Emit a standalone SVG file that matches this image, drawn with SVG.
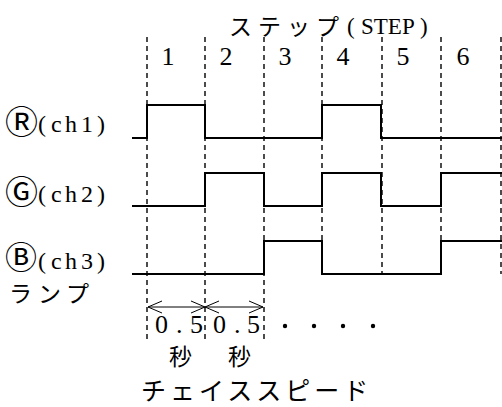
<svg xmlns="http://www.w3.org/2000/svg" width="502" height="407" viewBox="0 0 502 407">
  <style>
    .grid { stroke: #000; stroke-width: 1.4; stroke-dasharray: 5 4; fill: none; }
    .wave { stroke: #000; stroke-width: 2; fill: none; stroke-linejoin: miter; }
    .dim { stroke: #000; stroke-width: 1; fill: none; }
    .txt { font-family: "Liberation Serif", "Noto Sans CJK JP", "DejaVu Sans", serif; fill: #000; }
    .jp { font-family: "Noto Sans CJK JP", "Liberation Serif", sans-serif; fill: #000; }
    .circ { font-family: "DejaVu Sans", "Noto Sans CJK JP", sans-serif; fill: #000; }
  </style>
  <defs>
    <marker id="openArrow" viewBox="0 0 16 14" refX="15" refY="7" markerWidth="16" markerHeight="14" markerUnits="userSpaceOnUse" orient="auto-start-reverse">
      <path d="M1 1 L15 7 L1 13" fill="none" stroke="#000" stroke-width="1"/>
    </marker>
  </defs>
  <rect width="502" height="407" fill="#fff"/>

  <!-- title and step numbers -->
  <g id="title">
    <text class="jp" font-size="23" y="35"><tspan x="229">ス</tspan><tspan x="258">テ</tspan><tspan x="287">ッ</tspan><tspan x="316">プ</tspan></text>
    <text class="txt" font-size="23" y="34"><tspan x="347">(</tspan><tspan x="361">STEP</tspan><tspan x="420">)</tspan></text>
  </g>
  <g id="steps" class="txt" font-size="26" text-anchor="middle">
    <text x="168" y="65">1</text>
    <text x="226" y="65">2</text>
    <text x="285" y="65">3</text>
    <text x="343" y="65">4</text>
    <text x="403" y="65">5</text>
    <text x="463" y="65">6</text>
  </g>

  <!-- step boundaries -->
  <g id="connectors">
    <g id="grid">
      <line class="grid" x1="147" y1="37" x2="147" y2="342"/>
      <line class="grid" x1="205" y1="37" x2="205" y2="342"/>
      <line class="grid" x1="264" y1="37" x2="264" y2="342"/>
      <line class="grid" x1="322" y1="37" x2="322" y2="274"/>
      <line class="grid" x1="382" y1="37" x2="382" y2="274"/>
      <line class="grid" x1="441" y1="37" x2="441" y2="274"/>
      <line class="grid" x1="501" y1="37" x2="501" y2="274"/>
    </g>
    <!-- chase-speed intervals -->
    <line class="dim" x1="148" y1="307" x2="205" y2="307" marker-start="url(#openArrow)" marker-end="url(#openArrow)"/>
    <line class="dim" x1="205" y1="307" x2="263" y2="307" marker-start="url(#openArrow)" marker-end="url(#openArrow)"/>
  </g>

  <!-- channel waveforms -->
  <g id="ch1">
    <text class="circ" font-size="33" x="5" y="134">Ⓡ</text>
    <text class="txt" font-size="24" y="132"><tspan x="38">(</tspan><tspan x="51">c</tspan><tspan x="65">h</tspan><tspan x="81">1</tspan><tspan x="97">)</tspan></text>
    <path class="wave" d="M132 138 H147 V105 H205 V138 H322 V105 H381 V138 H502"/>
  </g>
  <g id="ch2">
    <text class="circ" font-size="33" x="5" y="204">Ⓖ</text>
    <text class="txt" font-size="24" y="202"><tspan x="38">(</tspan><tspan x="51">c</tspan><tspan x="65">h</tspan><tspan x="81">2</tspan><tspan x="97">)</tspan></text>
    <path class="wave" d="M132 206 H205 V173 H264 V206 H322 V173 H381 V206 H441 V173 H502"/>
  </g>
  <g id="ch3">
    <text class="circ" font-size="32" x="5" y="269">Ⓑ</text>
    <text class="txt" font-size="24" y="269"><tspan x="38">(</tspan><tspan x="51">c</tspan><tspan x="65">h</tspan><tspan x="81">3</tspan><tspan x="97">)</tspan></text>
    <text class="jp" font-size="23" y="302"><tspan x="9">ラ</tspan><tspan x="38">ン</tspan><tspan x="66">プ</tspan></text>
    <path class="wave" d="M132 274 H264 V241 H322 V274 H441 V241 H502"/>
  </g>

  <!-- chase speed labels -->
  <g id="speed">
    <text class="txt" font-size="26" y="333"><tspan x="155">0</tspan><tspan x="176">.</tspan><tspan x="190">5</tspan><tspan x="213">0</tspan><tspan x="234">.</tspan><tspan x="247">5</tspan></text>
    <g fill="#000">
      <circle cx="285" cy="326" r="2.2"/>
      <circle cx="314" cy="326" r="2.2"/>
      <circle cx="343" cy="326" r="2.2"/>
      <circle cx="373" cy="326" r="2.2"/>
    </g>
    <text class="jp" font-size="23" y="365"><tspan x="169">秒</tspan><tspan x="228">秒</tspan></text>
    <text class="jp" font-size="25" x="141" y="400" letter-spacing="4">チェイススピード</text>
  </g>
</svg>
